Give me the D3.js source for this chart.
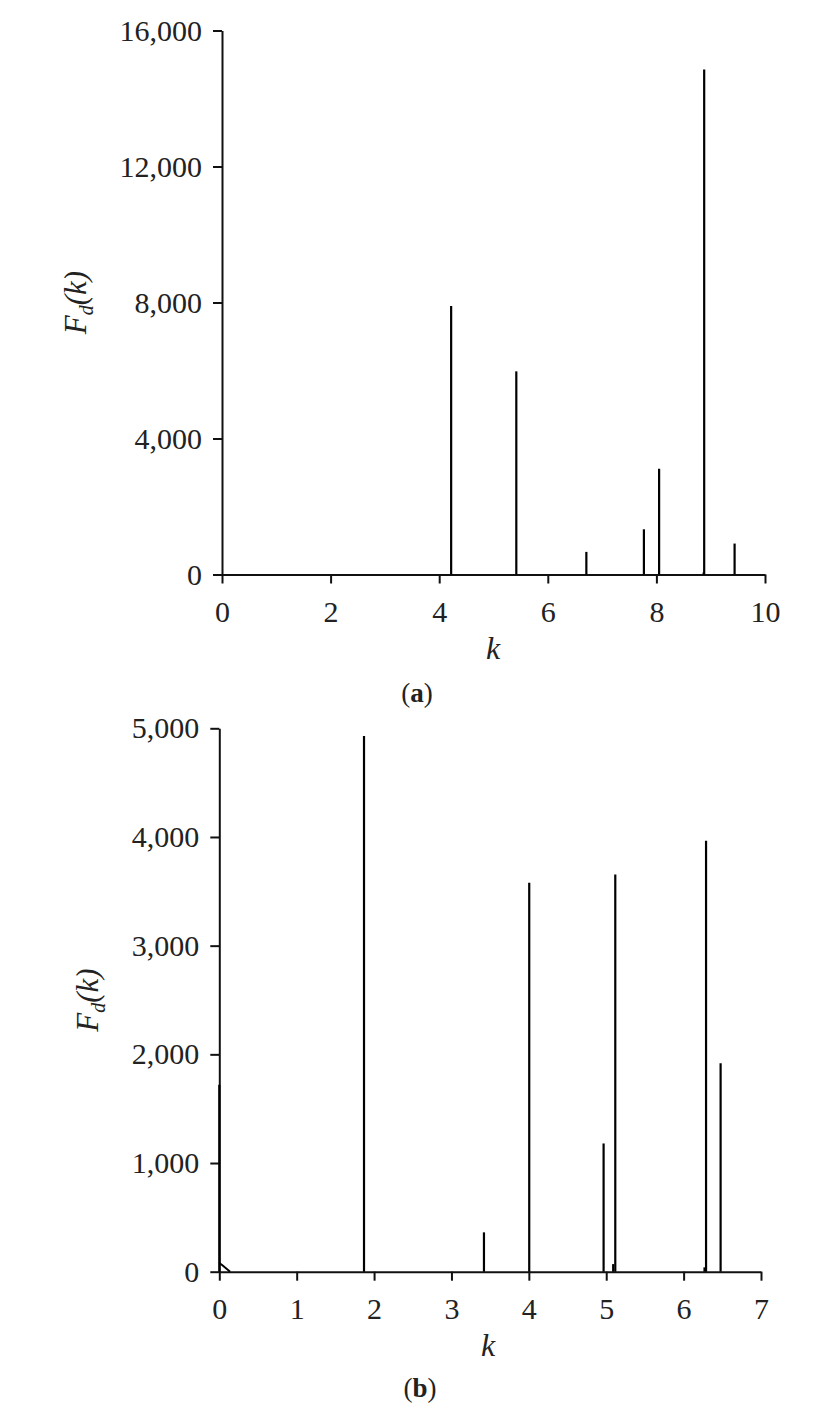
<!DOCTYPE html>
<html>
<head>
<meta charset="utf-8">
<script src="https://cdn.jsdelivr.net/npm/d3@7"></script>
<style>
  html, body { margin: 0; padding: 0; background: #fff; }
  svg { display: block; }
  text { font-family: "Liberation Serif", "Times New Roman", serif; fill: #222; }
</style>
</head>
<body>
<svg id="chart" width="835" height="1422"></svg>
<script>
// ---------- Data ----------
// Panel (a)
const aK      = [4.22, 5.42, 6.71, 7.77, 8.05, 8.87, 8.88, 9.44];
const aF      = [7900, 5975, 665, 1330, 3110, 60, 14850, 910];
const aXTicks = [0, 2, 4, 6, 8, 10];
const aYTicks = [0, 4000, 8000, 12000, 16000];

// Panel (b)
const bK      = [0.0, 1.87, 3.42, 4.005, 4.966, 5.09, 5.117, 6.27, 6.29, 6.478];
const bF      = [1720, 4930, 362, 3580, 1180, 70, 3655, 40, 3965, 1918];
const bTailK  = [0.0, 0.04, 0.14];
const bTailF  = [80, 60, 0];
const bXTicks = [0, 1, 2, 3, 4, 5, 6, 7];
const bYTicks = [0, 1000, 2000, 3000, 4000, 5000];

// ---------- Drawing ----------
const svg = d3.select("#chart");
const fmt = d3.format(",");
const fmtX = d3.format("d");

function panel(opt) {
  const x = d3.scaleLinear().domain(opt.xDomain).range(opt.xRange);
  const y = d3.scaleLinear().domain(opt.yDomain).range(opt.yRange);
  const g = svg.append("g");

  // axes
  const xAxis = d3.axisBottom(x).tickValues(opt.xTicks).tickSize(9).tickSizeOuter(0).tickPadding(17).tickFormat(fmtX);
  const yAxis = d3.axisLeft(y).tickValues(opt.yTicks).tickSize(9).tickSizeOuter(0).tickPadding(11).tickFormat(fmt);

  const gx = g.append("g").attr("transform", `translate(0,${opt.yRange[0]})`).call(xAxis);
  const gy = g.append("g").attr("transform", `translate(${opt.xRange[0]},0)`).call(yAxis);
  [gx, gy].forEach(a => {
    a.select(".domain").attr("stroke", "#111").attr("stroke-width", 2);
    a.selectAll(".tick line").attr("stroke", "#111").attr("stroke-width", 2);
    a.selectAll(".tick text").style("font-size", "30px").attr("fill", "#222");
  });

  // spikes
  g.append("g").selectAll("line").data(opt.k.map((k, i) => ({k, f: opt.f[i]})))
    .join("line")
    .attr("x1", d => x(d.k)).attr("x2", d => x(d.k))
    .attr("y1", y(0)).attr("y2", d => y(d.f))
    .attr("stroke", "#000").attr("stroke-width", 2.2);

  if (opt.tailK) {
    const pts = opt.tailK.map((k, i) => [x(k), y(opt.tailF[i])]);
    g.append("path").attr("d", d3.line()(pts)).attr("fill", "none")
      .attr("stroke", "#000").attr("stroke-width", 2);
  }

  // y label F_d(k)
  const yl = g.append("text")
    .attr("transform", `translate(${opt.yLabelX},${(opt.yRange[0] + opt.yRange[1]) / 2}) rotate(-90)`)
    .attr("text-anchor", "middle")
    .style("font-size", "31px").style("font-style", "italic");
  yl.append("tspan").text("F");
  yl.append("tspan").attr("dy", 7).style("font-size", "20px").text("d");
  yl.append("tspan").attr("dy", -7).text("(k)");

  // x label k
  g.append("text").attr("x", opt.kLabel[0]).attr("y", opt.kLabel[1])
    .attr("text-anchor", "middle").style("font-size", "32px").style("font-style", "italic").text("k");

  // panel caption
  const c = g.append("text").attr("x", opt.cap[0]).attr("y", opt.cap[1])
    .attr("text-anchor", "middle").style("font-size", "27px");
  c.append("tspan").text("(");
  c.append("tspan").style("font-weight", "bold").text(opt.capLetter);
  c.append("tspan").text(")");
}

panel({
  xDomain: [0, 10], xRange: [222, 765],
  yDomain: [0, 16000], yRange: [574.5, 30.5],
  xTicks: aXTicks, yTicks: aYTicks,
  k: aK, f: aF,
  yLabelX: 86, kLabel: [493, 659], cap: [417, 702], capLetter: "a"
});

panel({
  xDomain: [0, 7], xRange: [219.3, 761],
  yDomain: [0, 5000], yRange: [1271.7, 728.3],
  xTicks: bXTicks, yTicks: bYTicks,
  k: bK, f: bF, tailK: bTailK, tailF: bTailF,
  yLabelX: 98, kLabel: [488, 1356], cap: [420, 1397], capLetter: "b"
});
</script>
</body>
</html>
